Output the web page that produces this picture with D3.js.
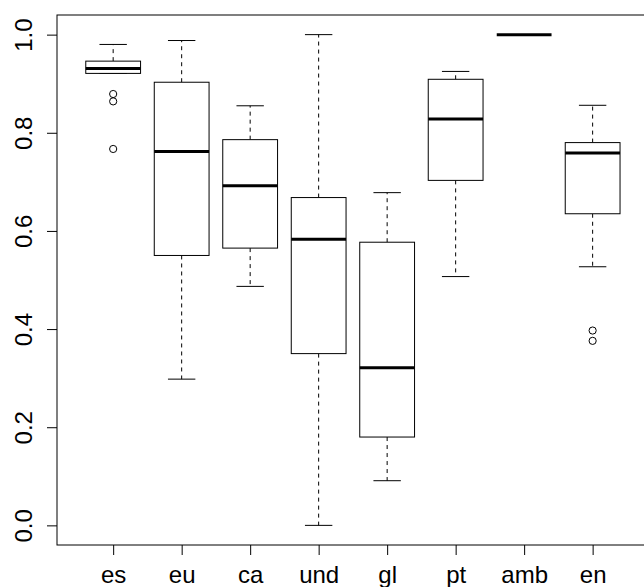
<!DOCTYPE html>
<html>
<head>
<meta charset="utf-8">
<script src="https://cdn.jsdelivr.net/npm/d3@7"></script>
<style>
  html, body { margin: 0; padding: 0; background: #fff; }
  svg { display: block; }
  text { font-family: "Liberation Sans", Arial, Helvetica, sans-serif; }
</style>
</head>
<body>
<svg id="chart" width="644" height="587"></svg>
<script>
const categories = ["es", "eu", "ca", "und", "gl", "pt", "amb", "en"];
const lowerWhisker = [0.921, 0.298, 0.487, 0.000, 0.091, 0.507, 1.000, 0.527];
const q1           = [0.921, 0.550, 0.565, 0.350, 0.180, 0.703, 1.000, 0.635];
const medians      = [0.931, 0.762, 0.692, 0.583, 0.321, 0.828, 1.000, 0.759];
const q3           = [0.946, 0.903, 0.786, 0.668, 0.577, 0.909, 1.000, 0.780];
const upperWhisker = [0.980, 0.988, 0.855, 1.000, 0.678, 0.925, 1.000, 0.856];
const outliers     = [[0.879, 0.864, 0.767], [], [], [], [], [], [], [0.397, 0.376]];
const yTicks = [0.0, 0.2, 0.4, 0.6, 0.8, 1.0];

const svg = d3.select("#chart");
const plotLeft = 57, plotTop = 15, plotBottom = 545, plotRight = 648.8;
const x = d3.scaleLinear().domain([0.18, 8.82]).range([plotLeft, plotRight]);
const y = d3.scaleLinear().domain([-0.04, 1.04]).range([plotBottom, plotTop]);
const boxHalf = 0.4, stapleHalf = 0.2;

const g = svg.append("g");

categories.forEach((c, i) => {
  const pos = i + 1;
  const cx = x(pos);
  const grp = g.append("g");
  grp.append("line")
    .attr("x1", cx).attr("x2", cx)
    .attr("y1", y(q3[i])).attr("y2", y(upperWhisker[i]))
    .attr("stroke", "#000").attr("stroke-width", 1).attr("stroke-dasharray", "4,4");
  grp.append("line")
    .attr("x1", cx).attr("x2", cx)
    .attr("y1", y(q1[i])).attr("y2", y(lowerWhisker[i]))
    .attr("stroke", "#000").attr("stroke-width", 1).attr("stroke-dasharray", "4,4");
  [upperWhisker[i], lowerWhisker[i]].forEach(v => {
    grp.append("line")
      .attr("x1", x(pos - stapleHalf)).attr("x2", x(pos + stapleHalf))
      .attr("y1", y(v)).attr("y2", y(v))
      .attr("stroke", "#000").attr("stroke-width", 1);
  });
  grp.append("rect")
    .attr("x", x(pos - boxHalf)).attr("width", x(pos + boxHalf) - x(pos - boxHalf))
    .attr("y", y(q3[i])).attr("height", Math.max(0, y(q1[i]) - y(q3[i])))
    .attr("fill", "#fff").attr("stroke", "#000").attr("stroke-width", 1);
  grp.append("line")
    .attr("x1", x(pos - boxHalf)).attr("x2", x(pos + boxHalf))
    .attr("y1", y(medians[i])).attr("y2", y(medians[i]))
    .attr("stroke", "#000").attr("stroke-width", 3);
  outliers[i].forEach(v => {
    grp.append("circle")
      .attr("cx", cx).attr("cy", y(v)).attr("r", 3.6)
      .attr("fill", "none").attr("stroke", "#000").attr("stroke-width", 1);
  });
});

svg.append("rect")
  .attr("x", plotLeft).attr("y", plotTop)
  .attr("width", plotRight - plotLeft).attr("height", plotBottom - plotTop)
  .attr("fill", "none").attr("stroke", "#000").attr("stroke-width", 1);

const yAxis = d3.axisLeft(y).tickValues(yTicks).tickSize(10).tickFormat(d3.format(".1f"));
const ya = svg.append("g").attr("transform", `translate(${plotLeft},0)`).call(yAxis);
ya.select(".domain").remove();
ya.selectAll(".tick line").attr("stroke", "#000");
ya.selectAll(".tick text")
  .attr("x", 0).attr("dy", 0)
  .attr("transform", "translate(-25,0) rotate(-90)")
  .attr("text-anchor", "middle")
  .attr("font-size", 24).attr("fill", "#000")
  .style("font-family", "'Liberation Sans', Arial, sans-serif");

const xAxis = d3.axisBottom(x).tickValues(d3.range(1, categories.length + 1)).tickSize(10)
  .tickFormat(d => categories[d - 1]);
const xa = svg.append("g").attr("transform", `translate(0,${plotBottom})`).call(xAxis);
xa.select(".domain").remove();
xa.selectAll(".tick line").attr("stroke", "#000");
xa.selectAll(".tick text")
  .attr("y", 38).attr("dy", 0)
  .attr("font-size", 24).attr("fill", "#000")
  .style("font-family", "'Liberation Sans', Arial, sans-serif");
</script>
</body>
</html>
